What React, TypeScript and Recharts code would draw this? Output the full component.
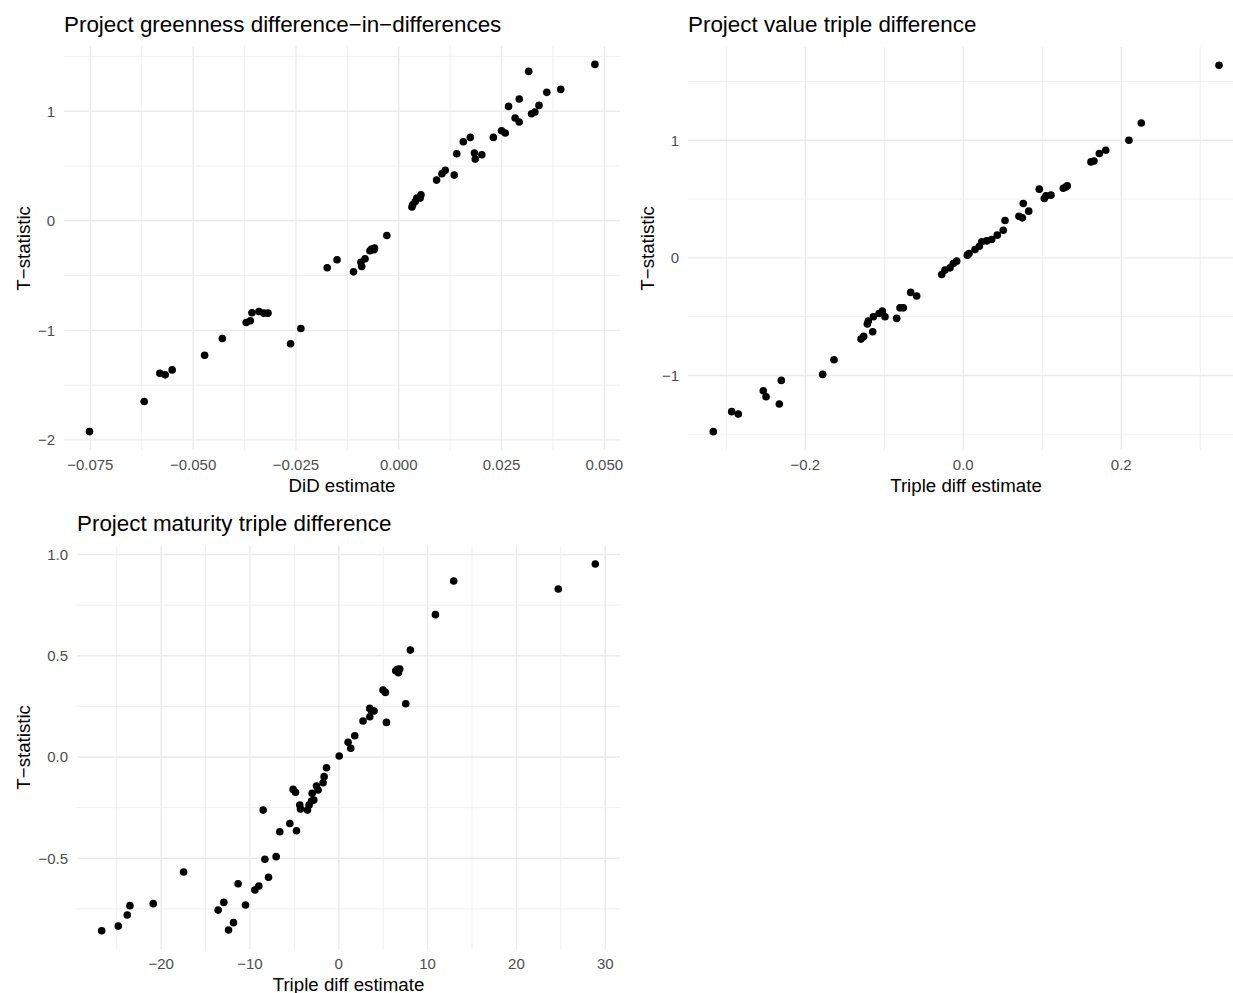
import React from 'react';
import { ScatterChart, Scatter, XAxis, YAxis, CartesianGrid } from 'recharts';

// Project greenness DiD
const greennessEstimate = [
  -0.0752, -0.0619, -0.0581, -0.0568, -0.0551, -0.0472, -0.0429, -0.0371, -0.0361, -0.0357,
  -0.034, -0.0328, -0.0318, -0.0263, -0.0238, -0.0174, -0.015, -0.011, -0.0092, -0.009,
  -0.0082, -0.007, -0.0066, -0.006, -0.0059, -0.0029, 0.0032, 0.0034, 0.004, 0.0044,
  0.0052, 0.0054, 0.0092, 0.0105, 0.0113, 0.0135, 0.0141, 0.0157, 0.0174, 0.0184,
  0.0186, 0.0202, 0.023, 0.025, 0.0259, 0.0267, 0.0283, 0.0293, 0.0293, 0.0316,
  0.0323, 0.0331, 0.0341, 0.036, 0.0394, 0.0477,
];
const greennessT = [
  -1.924, -1.65, -1.391, -1.406, -1.361, -1.227, -1.075, -0.929, -0.913, -0.84,
  -0.828, -0.843, -0.843, -1.123, -0.983, -0.429, -0.356, -0.466, -0.378, -0.417,
  -0.347, -0.274, -0.259, -0.265, -0.25, -0.134, 0.125, 0.146, 0.176, 0.207,
  0.207, 0.237, 0.371, 0.429, 0.46, 0.417, 0.612, 0.721, 0.761, 0.618,
  0.563, 0.603, 0.761, 0.822, 0.801, 1.044, 0.938, 0.901, 1.111, 1.363,
  0.977, 0.992, 1.053, 1.172, 1.199, 1.427,
];

// Project value triple difference
const valueEstimate = [
  -0.3165, -0.2932, -0.2848, -0.2532, -0.2497, -0.2329, -0.2304, -0.178, -0.1637, -0.1295,
  -0.1261, -0.1215, -0.1203, -0.1147, -0.1139, -0.1067, -0.1025, -0.0991, -0.0843, -0.0801,
  -0.0759, -0.0666, -0.059, -0.0273, -0.0232, -0.0168, -0.0127, -0.0084, 0.0051, 0.0072,
  0.0148, 0.0203, 0.0233, 0.0296, 0.0359, 0.043, 0.0506, 0.0528, 0.0705, 0.0747,
  0.0759, 0.0828, 0.0962, 0.1025, 0.1047, 0.111, 0.1266, 0.1296, 0.1316, 0.1616,
  0.1654, 0.1722, 0.1803, 0.2097, 0.2253, 0.3237,
];
const valueT = [
  -1.478, -1.308, -1.328, -1.13, -1.181, -1.243, -1.042, -0.991, -0.867, -0.691,
  -0.668, -0.563, -0.538, -0.629, -0.501, -0.473, -0.453, -0.501, -0.515, -0.425,
  -0.425, -0.294, -0.325, -0.141, -0.104, -0.085, -0.048, -0.028, 0.023, 0.037,
  0.071, 0.099, 0.136, 0.144, 0.156, 0.193, 0.235, 0.318, 0.354, 0.34,
  0.462, 0.397, 0.584, 0.505, 0.527, 0.533, 0.592, 0.603, 0.612, 0.816,
  0.824, 0.887, 0.915, 1.0, 1.147, 1.637,
];

// Project maturity triple difference
const maturityEstimate = [
  -26.69, -24.82, -23.81, -23.51, -20.89, -17.47, -13.58, -12.94, -12.41, -11.85,
  -11.33, -10.5, -9.45, -9.0, -8.51, -8.32, -7.91, -7.05, -6.64, -5.51,
  -5.14, -4.87, -4.76, -4.39, -4.31, -3.52, -3.34, -3.07, -3.0, -2.81,
  -2.51, -2.33, -1.77, -1.65, -1.38, 0.05, 1.05, 1.35, 1.8, 2.73,
  3.49, 3.49, 3.68, 3.97, 4.98, 5.25, 5.37, 6.41, 6.6, 6.86,
  6.72, 7.54, 8.06, 10.88, 12.94, 24.71, 28.88,
];
const maturityT = [
  -0.858, -0.835, -0.78, -0.734, -0.724, -0.568, -0.756, -0.718, -0.854, -0.818,
  -0.626, -0.731, -0.657, -0.637, -0.262, -0.505, -0.594, -0.492, -0.369, -0.328,
  -0.16, -0.174, -0.364, -0.237, -0.257, -0.262, -0.237, -0.217, -0.179, -0.212,
  -0.143, -0.163, -0.127, -0.097, -0.053, 0.005, 0.073, 0.043, 0.105, 0.178,
  0.199, 0.24, 0.229, 0.227, 0.331, 0.319, 0.171, 0.426, 0.433, 0.435,
  0.416, 0.263, 0.528, 0.703, 0.869, 0.83, 0.953,
];

// tick values and labels
const greennessXTicks = [-0.075, -0.05, -0.025, 0, 0.025, 0.05];
const greennessXLabels = ['\u22120.075', '\u22120.050', '\u22120.025', '0.000', '0.025', '0.050'];
const greennessXMinor = [-0.0625, -0.0375, -0.0125, 0.0125, 0.0375];
const greennessYTicks = [-2, -1, 0, 1];
const greennessYLabels = ['\u22122', '\u22121', '0', '1'];
const greennessYMinor = [-1.5, -0.5, 0.5, 1.5];

const valueXTicks = [-0.2, 0, 0.2];
const valueXLabels = ['\u22120.2', '0.0', '0.2'];
const valueXMinor = [-0.3, -0.1, 0.1, 0.3];
const valueYTicks = [-1, 0, 1];
const valueYLabels = ['\u22121', '0', '1'];
const valueYMinor = [-1.5, -0.5, 0.5, 1.5];

const maturityXTicks = [-20, -10, 0, 10, 20, 30];
const maturityXLabels = ['\u221220', '\u221210', '0', '10', '20', '30'];
const maturityXMinor = [-25, -15, -5, 5, 15, 25];
const maturityYTicks = [-0.5, 0, 0.5, 1];
const maturityYLabels = ['\u22120.5', '0.0', '0.5', '1.0'];
const maturityYMinor = [-0.75, -0.25, 0.25, 0.75];

const FONT = '"Liberation Sans", Arial, Helvetica, sans-serif';

const zip = (xs: number[], ys: number[]) => xs.map((x, i) => ({ x, y: ys[i] }));

const Dot = (props: any) => <circle cx={props.cx} cy={props.cy} r={3.8} fill="#000000" />;

const fmt = (ticks: number[], labels: string[]) => (v: number) => {
  const i = ticks.indexOf(v);
  return i >= 0 ? labels[i] : String(v);
};

interface PanelProps {
  data: { x: number; y: number }[];
  left: number;
  top: number;
  width: number;
  height: number;
  marginTop: number;
  marginRight: number;
  yAxisWidth: number;
  xAxisHeight: number;
  xDomain: [number, number];
  yDomain: [number, number];
  xTicks: number[];
  xLabels: string[];
  xMinor: number[];
  yTicks: number[];
  yLabels: string[];
  yMinor: number[];
}

const Panel = (p: PanelProps) => (
  <div style={{ position: 'absolute', left: p.left, top: p.top }}>
    <ScatterChart
      width={p.width}
      height={p.height}
      margin={{ top: p.marginTop, right: p.marginRight, bottom: 0, left: 0 }}
    >
      <CartesianGrid
        stroke="#EBEBEB"
        strokeWidth={0.8}
        horizontalValues={p.yMinor}
        verticalValues={p.xMinor}
      />
      <CartesianGrid
        stroke="#EBEBEB"
        strokeWidth={1.4}
        horizontalValues={p.yTicks}
        verticalValues={p.xTicks}
      />
      <XAxis
        type="number"
        dataKey="x"
        domain={p.xDomain}
        allowDataOverflow
        ticks={p.xTicks}
        interval={0}
        tickFormatter={fmt(p.xTicks, p.xLabels)}
        axisLine={false}
        tickLine={false}
        tickSize={4}
        tickMargin={5}
        height={p.xAxisHeight}
        tick={{ fill: '#4D4D4D', fontSize: 15, fontFamily: FONT }}
      />
      <YAxis
        type="number"
        dataKey="y"
        domain={p.yDomain}
        allowDataOverflow
        ticks={p.yTicks}
        interval={0}
        tickFormatter={fmt(p.yTicks, p.yLabels)}
        axisLine={false}
        tickLine={false}
        tickSize={4}
        tickMargin={5}
        width={p.yAxisWidth}
        tick={{ fill: '#4D4D4D', fontSize: 15, fontFamily: FONT }}
      />
      <Scatter data={p.data} shape={Dot} isAnimationActive={false} />
    </ScatterChart>
  </div>
);

const TITLE_SIZE = 22.4;
const AXIS_SIZE = 18.7;

const Title = ({ text, left, baseline }: { text: string; left: number; baseline: number }) => (
  <div
    style={{
      position: 'absolute',
      left,
      top: baseline - 0.8465 * TITLE_SIZE,
      fontSize: TITLE_SIZE,
      lineHeight: `${TITLE_SIZE}px`,
      fontFamily: FONT,
      color: '#000',
      whiteSpace: 'nowrap',
    }}
  >
    {text}
  </div>
);

const XTitle = ({ text, cx, baseline }: { text: string; cx: number; baseline: number }) => (
  <div
    style={{
      position: 'absolute',
      left: cx - 150,
      width: 300,
      textAlign: 'center',
      top: baseline - 0.8465 * AXIS_SIZE,
      fontSize: AXIS_SIZE,
      lineHeight: `${AXIS_SIZE}px`,
      fontFamily: FONT,
      color: '#000',
      whiteSpace: 'nowrap',
    }}
  >
    {text}
  </div>
);

const YTitle = ({ text, cx, cy }: { text: string; cx: number; cy: number }) => (
  <div
    style={{
      position: 'absolute',
      left: cx - 100,
      width: 200,
      top: cy - AXIS_SIZE / 2,
      height: AXIS_SIZE,
      textAlign: 'center',
      fontSize: AXIS_SIZE,
      lineHeight: `${AXIS_SIZE}px`,
      fontFamily: FONT,
      color: '#000',
      whiteSpace: 'nowrap',
      transform: 'rotate(-90deg)',
    }}
  >
    {text}
  </div>
);

export default function App() {
  return (
    <div
      style={{
        position: 'absolute',
        left: 0,
        top: 0,
        width: 1233,
        height: 993,
        background: '#ffffff',
        overflow: 'hidden',
      }}
    >
      <Panel
        data={zip(greennessEstimate, greennessT)}
        left={0}
        top={0}
        width={630}
        height={500}
        marginTop={46}
        marginRight={10}
        yAxisWidth={64}
        xAxisHeight={50}
        xDomain={[-0.0814, 0.0538]}
        yDomain={[-2.092, 1.595]}
        xTicks={greennessXTicks}
        xLabels={greennessXLabels}
        xMinor={greennessXMinor}
        yTicks={greennessYTicks}
        yLabels={greennessYLabels}
        yMinor={greennessYMinor}
      />
      <Panel
        data={zip(valueEstimate, valueT)}
        left={625}
        top={0}
        width={608}
        height={500}
        marginTop={47}
        marginRight={0}
        yAxisWidth={63}
        xAxisHeight={50}
        xDomain={[-0.3485, 0.3414]}
        yDomain={[-1.634, 1.793]}
        xTicks={valueXTicks}
        xLabels={valueXLabels}
        xMinor={valueXMinor}
        yTicks={valueYTicks}
        yLabels={valueYLabels}
        yMinor={valueYMinor}
      />
      <Panel
        data={zip(maturityEstimate, maturityT)}
        left={0}
        top={500}
        width={630}
        height={493}
        marginTop={45.6}
        marginRight={10}
        yAxisWidth={77}
        xAxisHeight={44}
        xDomain={[-29.47, 31.66]}
        yDomain={[-0.948, 1.044]}
        xTicks={maturityXTicks}
        xLabels={maturityXLabels}
        xMinor={maturityXMinor}
        yTicks={maturityYTicks}
        yLabels={maturityYLabels}
        yMinor={maturityYMinor}
      />

      <Title text={'Project greenness difference\u2212in\u2212differences'} left={64} baseline={33} />
      <Title text="Project value triple difference" left={688} baseline={33} />
      <Title text="Project maturity triple difference" left={77} baseline={532} />

      <XTitle text="DiD estimate" cx={342} baseline={493} />
      <XTitle text="Triple diff estimate" cx={966} baseline={493} />
      <XTitle text="Triple diff estimate" cx={348.5} baseline={991.5} />

      <YTitle text={'T\u2212statistic'} cx={23.5} cy={248} />
      <YTitle text={'T\u2212statistic'} cx={647.5} cy={248.5} />
      <YTitle text={'T\u2212statistic'} cx={23.5} cy={747} />
    </div>
  );
}
